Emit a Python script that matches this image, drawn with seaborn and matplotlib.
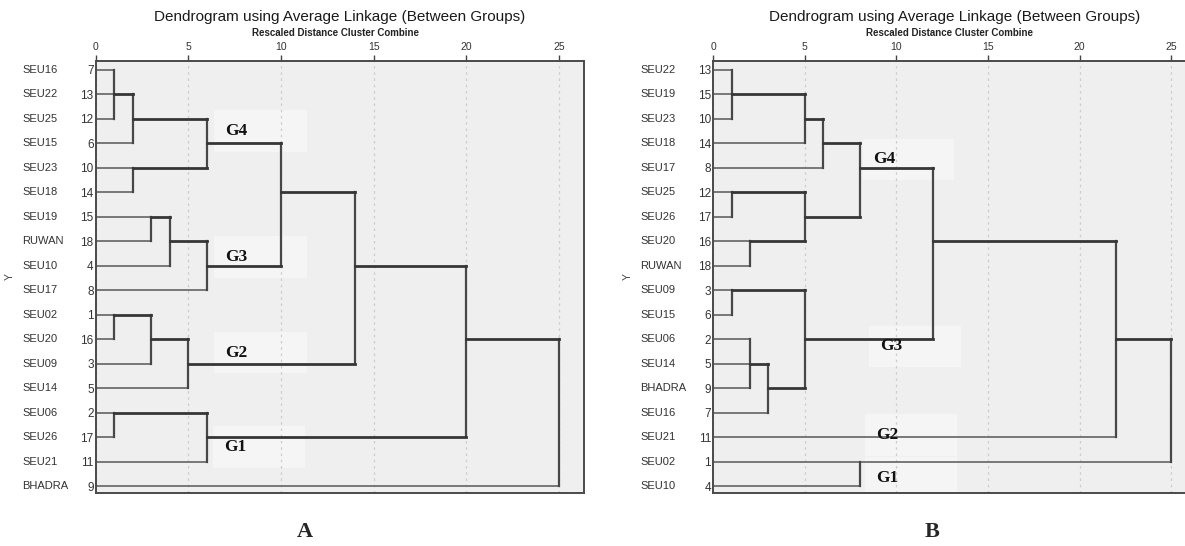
import pandas as pd
import matplotlib
matplotlib.use("Agg")
import matplotlib.pyplot as plt
import matplotlib.transforms as mtransforms
from matplotlib import font_manager
from matplotlib.patches import Rectangle
import seaborn as sns

# --- DATA: panel A ---
a_names = ["SEU16", "SEU22", "SEU25", "SEU15", "SEU23", "SEU18", "SEU19", "RUWAN", "SEU10",
           "SEU17", "SEU02", "SEU20", "SEU09", "SEU14", "SEU06", "SEU26", "SEU21", "BHADRA"]
a_cases = [7, 13, 12, 6, 10, 14, 15, 18, 4, 8, 1, 16, 3, 5, 2, 17, 11, 9]
# leaf line of each row runs from 0 to this distance
a_leaf_end = [1, 1, 1, 2, 2, 2, 3, 3, 4, 6, 1, 1, 3, 5, 1, 1, 6, 25]
# joining horizontals: row, from, to
a_join_row = [1, 2, 3, 4, 5, 6, 7, 8, 8, 10, 11, 11, 12, 14, 15]
a_join_from = [1, 2, 6, 2, 10, 3, 4, 6, 14, 1, 3, 20, 5, 1, 6]
a_join_to = [2, 6, 10, 6, 14, 4, 6, 10, 20, 3, 5, 25, 14, 6, 20]
# verticals: distance, top row, bottom row
a_vert_d = [1, 2, 6, 2, 10, 14, 3, 4, 6, 20, 1, 3, 5, 25, 1, 6]
a_vert_top = [0, 1, 2, 4, 3, 5, 6, 6, 7, 8, 10, 10, 11, 11, 14, 14]
a_vert_bot = [2, 3, 4, 5, 8, 12, 7, 8, 9, 15, 11, 12, 13, 17, 15, 16]
a_groups = ["G4", "G3", "G2", "G1"]
a_group_x = [7.0, 7.0, 7.0, 6.9]
a_group_row = [2.5, 7.65, 11.55, 15.4]

# --- DATA: panel B ---
b_names = ["SEU22", "SEU19", "SEU23", "SEU18", "SEU17", "SEU25", "SEU26", "SEU20", "RUWAN",
           "SEU09", "SEU15", "SEU06", "SEU14", "BHADRA", "SEU16", "SEU21", "SEU02", "SEU10"]
b_cases = [13, 15, 10, 14, 8, 12, 17, 16, 18, 3, 6, 2, 5, 9, 7, 11, 1, 4]
b_leaf_end = [1, 1, 1, 5, 6, 1, 1, 2, 2, 1, 1, 2, 2, 2, 3, 22, 25, 8]
b_join_row = [1, 2, 3, 4, 5, 6, 7, 7, 9, 11, 11, 12, 13]
b_join_from = [1, 5, 6, 8, 1, 5, 2, 12, 1, 5, 22, 2, 3]
b_join_to = [5, 6, 8, 12, 5, 8, 5, 22, 5, 12, 25, 3, 5]
b_vert_d = [1, 5, 6, 8, 1, 2, 5, 12, 1, 2, 3, 5, 22, 25, 8]
b_vert_top = [0, 1, 2, 3, 5, 7, 5, 4, 9, 11, 12, 9, 7, 11, 16]
b_vert_bot = [2, 3, 4, 6, 6, 8, 7, 11, 10, 13, 14, 13, 15, 16, 17]
b_groups = ["G4", "G3", "G2", "G1"]
b_group_x = [8.75, 9.1, 8.9, 8.9]
b_group_row = [3.67, 11.3, 14.92, 16.67]

x_ticks = [0, 5, 10, 15, 20, 25]
title = "Dendrogram using Average Linkage (Between Groups)"
subtitle = "Rescaled Distance Cluster Combine"

sns.set_style("white")
names = {f.name for f in font_manager.fontManager.ttflist}
narrow = "Liberation Sans Narrow" if "Liberation Sans Narrow" in names else "Liberation Sans"
plt.rcParams["font.family"] = ["Liberation Sans", "DejaVu Sans"]
plt.rcParams["lines.solid_capstyle"] = "projecting"


def segments_frame(rows_from, rows_to, x_from, x_to):
    recs = []
    for i, (r0, r1, x0, x1) in enumerate(zip(rows_from, rows_to, x_from, x_to)):
        recs.append({"seg": i, "x": x0, "y": r0})
        recs.append({"seg": i, "x": x1, "y": r1})
    return pd.DataFrame(recs)


def draw_panel(ax, leaf_names, cases, leaf_end, j_row, j_from, j_to, v_d, v_top, v_bot,
               groups, g_x, g_row, name_x):
    n = len(leaf_names)
    rows = list(range(n))
    ax.set_facecolor("#efefef")

    # boxes behind the group labels
    for gx, gr in zip(g_x, g_row):
        ax.add_patch(Rectangle((gx - 0.6, gr - 0.85), 5.0, 1.7, facecolor="#f5f5f5",
                               edgecolor="none", zorder=0.5))

    leaves = segments_frame(rows, rows, [0] * n, leaf_end)
    joins = segments_frame(j_row, j_row, j_from, j_to)
    verts = segments_frame(v_top, v_bot, v_d, v_d)
    kw = dict(x="x", y="y", units="seg", estimator=None, sort=False, ax=ax, legend=False)
    sns.lineplot(data=leaves, color="#6e6e6e", linewidth=1.3, **kw)
    sns.lineplot(data=verts, color="#474747", linewidth=1.6, **kw)
    sns.lineplot(data=joins, color="#363636", linewidth=2.0, **kw)

    for g, gx, gr in zip(groups, g_x, g_row):
        ax.text(gx, gr, g, ha="left", va="center", fontsize=12.5, fontweight="bold",
                family=["Liberation Serif", "DejaVu Serif"], color="#111111", zorder=5)

    ax.set_xlim(0, 26.34)
    ax.set_ylim(17.27, -0.36)
    ax.set_xlabel("")
    ax.set_ylabel("")
    ax.xaxis.tick_top()
    ax.set_xticks(x_ticks)
    ax.set_xticklabels([str(t) for t in x_ticks], family=narrow)
    ax.tick_params(axis="x", direction="out", length=4, width=1, color="#444444",
                   labelcolor="#333333", labelsize=7.5, pad=2.5)
    ax.set_yticks(rows)
    ax.set_yticklabels([str(c) for c in cases], family=narrow)
    ax.tick_params(axis="y", length=0, labelsize=8.5, labelcolor="#333333", pad=1.5)
    ax.grid(axis="x", linestyle=(0, (2, 3)), color="#cdcdcd", linewidth=0.9)
    ax.grid(axis="y", visible=False)
    for s in ax.spines.values():
        s.set_visible(True)
        s.set_color("#4a4a4a")
        s.set_linewidth(1.4)

    trans = mtransforms.blended_transform_factory(ax.figure.transFigure, ax.transData)
    for r, nm in zip(rows, leaf_names):
        ax.text(name_x, r, nm, transform=trans, ha="left", va="center", fontsize=8,
                family=narrow, color="#333333")


fig = plt.figure(figsize=(11.85, 5.46), dpi=100)
ax_a = fig.add_axes([0.0808, 0.0976, 0.412, 0.7912])
ax_b = fig.add_axes([0.6019, 0.0976, 0.4072, 0.7912])

draw_panel(ax_a, a_names, a_cases, a_leaf_end, a_join_row, a_join_from, a_join_to,
           a_vert_d, a_vert_top, a_vert_bot, a_groups, a_group_x, a_group_row, 22 / 1185)
draw_panel(ax_b, b_names, b_cases, b_leaf_end, b_join_row, b_join_from, b_join_to,
           b_vert_d, b_vert_top, b_vert_bot, b_groups, b_group_x, b_group_row, 640 / 1185)

for cx, ylx in [(0.2868, 0.0085), (0.8055, 0.530)]:
    fig.text(cx, 0.9694, title, ha="center", va="center", fontsize=11, color="#1a1a1a")
    fig.text(cx - 0.004, 0.9396, subtitle, ha="center", va="center", fontsize=7,
             fontweight="bold", color="#222222")
    fig.text(ylx, 0.4932, "Y", rotation=90, ha="center", va="center", fontsize=7.5,
             color="#444444")

fig.text(0.2574, 0.026, "A", ha="center", va="center", fontsize=16, fontweight="bold",
         family=["Liberation Serif", "DejaVu Serif"])
fig.text(0.7865, 0.026, "B", ha="center", va="center", fontsize=16, fontweight="bold",
         family=["Liberation Serif", "DejaVu Serif"])

fig.savefig("out.png", dpi=100)
